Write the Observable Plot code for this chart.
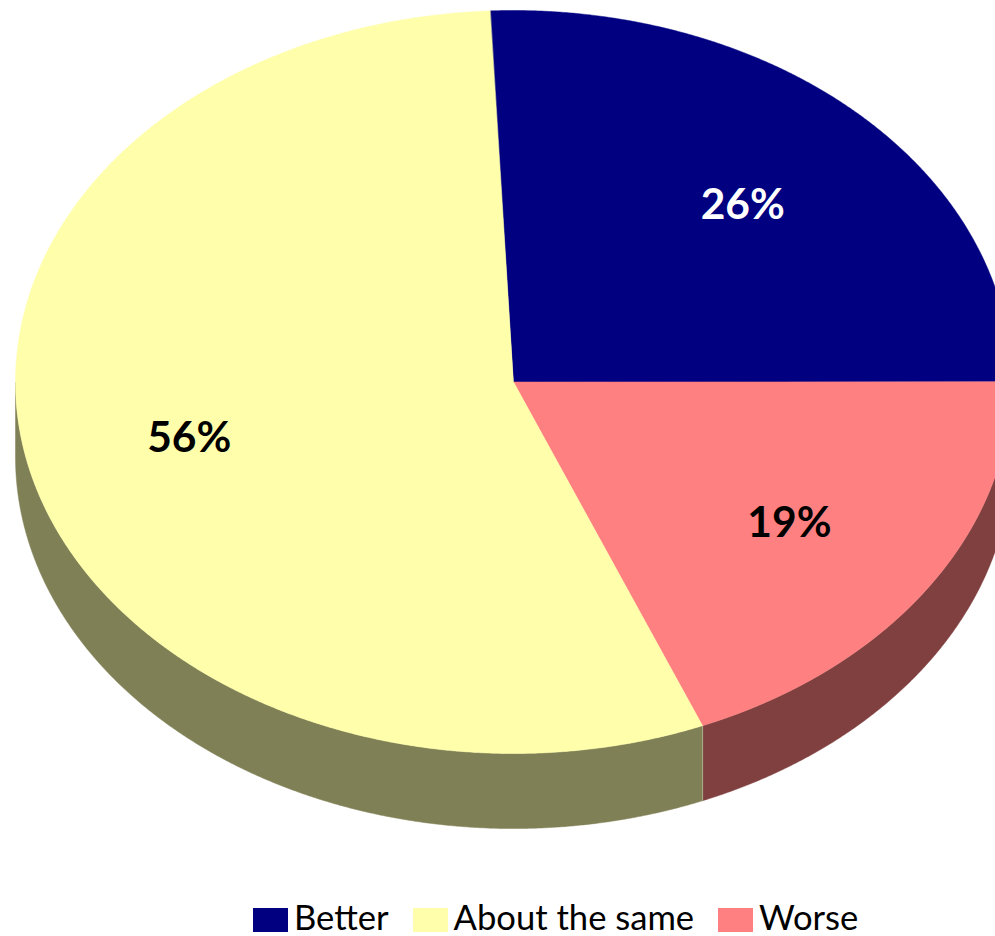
<!DOCTYPE html>
<html>
<head>
<meta charset="utf-8">
<script src="https://cdn.jsdelivr.net/npm/d3@7"></script>
<script src="https://cdn.jsdelivr.net/npm/@observablehq/plot@0.6"></script>
<style>
  html, body { margin: 0; padding: 0; background: #fff; overflow: hidden; }
  #chart svg { display: block; }
  #legend {
    display: flex; align-items: center; padding: 4px 0 0 253px; box-sizing: border-box; height: 36px;
    font: 34.6px/30px Lato, sans-serif; color: #000; white-space: nowrap;
  }
  #legend .item { display: flex; align-items: center; margin-right: 24px; }
  #legend .swatch { width: 35px; height: 24px; margin-right: 6px; margin-top: -1px; }
  #legend span { position: relative; top: -3px; }
</style>
</head>
<body>
<div id="chart"></div>
<div id="legend"></div>
<script>
const categories = ["Better", "About the same", "Worse"];
const percents = [26, 56, 19];
const topColors = ["#000080", "#FFFFAB", "#FF8080"];
const wallColors = ["#000040", "#808056", "#804040"];
const labelColors = ["#fff", "#000", "#000"];

// Slices run clockwise in this order of the category list.
const clockwiseOrder = [0, 2, 1];

// Clockwise angle, in degrees from 12 o'clock, where the first slice begins.
const startAngle = -2.7;
const wallDepth = 0.202;
const labelRadius = 0.667;

const total = d3.sum(percents);
let cursor = startAngle;
const slices = clockwiseOrder.map((i) => {
  const a0 = cursor;
  cursor += (percents[i] / total) * 360;
  return {name: categories[i], value: percents[i], a0, a1: cursor, mid: (a0 + cursor) / 2,
          top: topColors[i], wall: wallColors[i], ink: labelColors[i]};
});

const rad = (a) => (a * Math.PI) / 180;
const rim = (a, dy = 0) => ({x: Math.sin(rad(a)), y: -Math.cos(rad(a)) + dy});
const sweep = (a0, a1) => d3.range(a0, a1, 0.25).concat(a1);

// Flat wedge on the upper face of the disc.
const wedge = (s) => [{x: 0, y: 0}, ...sweep(s.a0, s.a1).map((a) => rim(a))];

// Side wall below the part of the rim facing the viewer (90° to 270°).
const wall = (s) => {
  const a0 = Math.max(s.a0, 90), a1 = Math.min(s.a1, 270);
  if (a1 <= a0) return null;
  const arc = sweep(a0, a1);
  return [...arc.map((a) => rim(a)), ...arc.reverse().map((a) => rim(a, wallDepth))];
};

const closed = {x: "x", y: "y", curve: "linear-closed"};
const walls = slices.filter((s) => wall(s)).map((s) =>
  Plot.line(wall(s), {...closed, fill: s.wall, stroke: s.wall, strokeWidth: 0.5}));
const wedges = slices.map((s) =>
  Plot.line(wedge(s), {...closed, fill: s.top, stroke: s.top, strokeWidth: 0.5}));

// Light hairline where the two visible walls meet.
const seamAngle = slices[2].a0;
const seam = Plot.line([rim(seamAngle), rim(seamAngle, wallDepth)],
  {x: "x", y: "y", stroke: "#A8A888", strokeWidth: 1});

const labels = slices.map((s) => ({
  text: `${s.value}%`,
  ink: s.ink,
  x: labelRadius * Math.sin(rad(s.mid)),
  y: -labelRadius * Math.cos(rad(s.mid))
}));

const chart = Plot.plot({
  width: 995,
  height: 900,
  margin: 0,
  x: {domain: [-1, 1], range: [15, 1011], axis: null},
  y: {domain: [-1, 1], range: [10, 753], axis: null},
  marks: [
    ...walls,
    seam,
    ...wedges,
    Plot.text(labels, {
      x: "x", y: "y", text: "text", fill: "ink", dy: 3,
      fontFamily: "Lato, sans-serif", fontWeight: 700, fontSize: 42.5,
      textAnchor: "middle", lineAnchor: "middle"
    })
  ]
});
document.getElementById("chart").append(chart);

// Legend keeps the category order rather than the clockwise order.
const legend = d3.select("#legend");
categories.forEach((name, i) => {
  const item = legend.append("div").attr("class", "item");
  item.append("div").attr("class", "swatch").style("background", topColors[i]);
  item.append("span").text(name);
});
</script>
</body>
</html>
